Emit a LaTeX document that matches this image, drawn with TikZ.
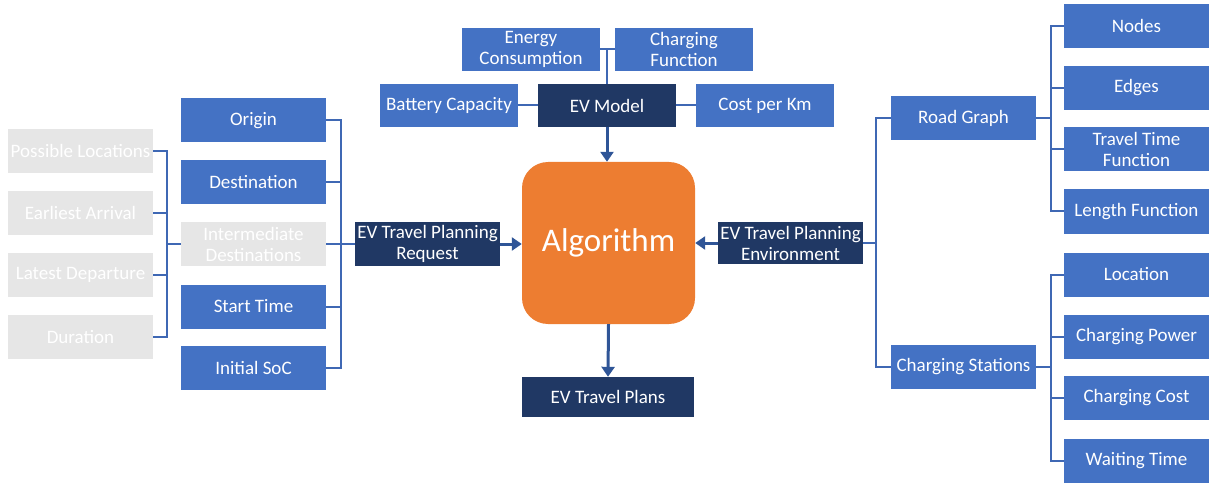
\documentclass[tikz,border=0pt]{standalone}
\usepackage{fontspec}
\setmainfont{Carlito}
\usetikzlibrary{arrows.meta}
\definecolor{midblue}{HTML}{4472C4}
\definecolor{navy}{HTML}{203864}
\definecolor{algo}{HTML}{ED7D31}
\definecolor{fade}{HTML}{E6E6E6}
\definecolor{wire}{HTML}{3F68B4}
\definecolor{flow}{HTML}{2F5597}
\tikzset{
  base/.style={inner sep=0pt, text=white, align=center,
    font=\fontsize{19}{21}\selectfont},
  sidebox/.style={base, fill=midblue, minimum width=145pt, minimum height=44pt},
  topbox/.style={base, fill=midblue, minimum width=138pt, minimum height=43pt},
  greybox/.style={base, fill=fade, minimum width=145pt, minimum height=44pt},
  hub/.style={base, fill=navy},
  link/.style={draw=wire, line width=2pt},
  feed/.style={draw=flow, line width=3pt, -{Triangle[length=10pt,width=13pt]}},
}
\begin{document}
\begin{tikzpicture}[x=1pt, y=-1pt]
\useasboundingbox (0,0) rectangle (1219,484);

% central block and output
\node[base, fill=algo, rounded corners=26pt, minimum width=173pt, minimum height=162pt,
      font=\fontsize{33}{36}\selectfont] (alg) at (608.5,243) {Algorithm};
\node[hub, minimum width=172pt, minimum height=40pt] (plans) at (608,397) {EV Travel Plans};

% EV model group
\node[hub, minimum width=138pt, minimum height=43pt] (evm) at (607,105.5) {EV Model};
\node[topbox] (energy) at (531,49.5) {Energy\\Consumption};
\node[topbox] (charge) at (684,49.5) {Charging\\Function};
\node[topbox] (batt) at (449,105.5) {Battery Capacity};
\node[topbox] (cost) at (765,105.5) {Cost per Km};

% request group
\node[hub, minimum width=145pt, minimum height=44pt] (req) at (427.5,244) {EV Travel Planning\\Request};
\node[sidebox] (orig) at (253.5,120.5) {Origin};
\node[sidebox] (dest) at (253.5,182.5) {Destination};
\node[greybox] (inter) at (253.5,244) {Intermediate\\Destinations};
\node[sidebox] (start) at (253.5,306.5) {Start Time};
\node[sidebox] (soc) at (253.5,368) {Initial SoC};
\node[greybox] (locs) at (80.5,151) {Possible Locations};
\node[greybox] (early) at (80.5,213) {Earliest Arrival};
\node[greybox] (late) at (80.5,275) {Latest Departure};
\node[greybox] (dur) at (80.5,337) {Duration};

% environment group
\node[hub, minimum width=145pt, minimum height=42pt] (env) at (790.5,243) {EV Travel Planning\\Environment};
\node[sidebox] (road) at (963.5,118.5) {Road Graph};
\node[sidebox] (cs) at (963.5,366.5) {Charging Stations};
\node[sidebox] (nodes) at (1136.5,26) {Nodes};
\node[sidebox] (edges) at (1136.5,88) {Edges};
\node[sidebox] (ttf) at (1136.5,149.5) {Travel Time\\Function};
\node[sidebox] (len) at (1136.5,211.5) {Length Function};
\node[sidebox] (loc) at (1136.5,274.5) {Location};
\node[sidebox] (pow) at (1136.5,336.5) {Charging Power};
\node[sidebox] (ccost) at (1136.5,398) {Charging Cost};
\node[sidebox] (wait) at (1136.5,460.5) {Waiting Time};

% bracket junctions
\coordinate (jg) at (167,244);
\coordinate (jr) at (341,244);
\coordinate (je) at (876,243);
\coordinate (jroad) at (1051,118.5);
\coordinate (jcs) at (1051,366.5);

% model attributes
\draw[link] (energy.east) -- (charge.west);
\draw[link] (evm.north) -- (evm.north |- energy.east);
\draw[link] (batt.east) -- (evm.west);
\draw[link] (evm.east) -- (cost.west);

% request attributes
\foreach \n in {locs,early,late,dur} \draw[link] (\n.east) -| (jg);
\draw[link] (jg) -- (inter.west);
\foreach \n in {orig,dest,inter,start,soc} \draw[link] (\n.east) -| (jr);
\draw[link] (jr) -- (req.west);

% environment attributes
\draw[link] (road.west) -| (je);
\draw[link] (cs.west) -| (je);
\draw[link] (je) -- (env.east);
\draw[link] (road.east) -- (jroad);
\foreach \n in {nodes,edges,ttf,len} \draw[link] (\n.west) -| (jroad);
\draw[link] (cs.east) -- (jcs);
\foreach \n in {loc,pow,ccost,wait} \draw[link] (\n.west) -| (jcs);

% flow into and out of the algorithm
\draw[feed] (evm.south) -- (evm.south |- alg.north);
\draw[feed] (req.east) -- (req.east -| alg.west);
\draw[feed] (env.west) -- (env.west -| alg.east);
\draw[feed] (alg.south) -- (plans.north);
\end{tikzpicture}
\end{document}
